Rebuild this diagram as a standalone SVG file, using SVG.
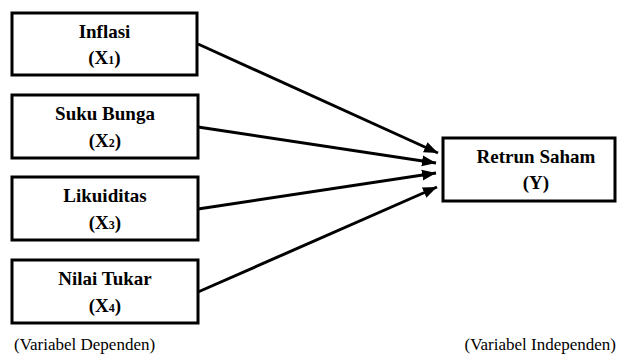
<svg xmlns="http://www.w3.org/2000/svg" width="617" height="358" viewBox="0 0 617 358">
<style>
.box{fill:#fff;stroke:#000;stroke-width:3}
.t{font-family:'Liberation Serif','Times New Roman',serif;font-weight:bold;font-size:19px;text-anchor:middle;fill:#000}
.s{font-family:'Liberation Serif','Times New Roman',serif;font-size:17px;fill:#000}
.c{stroke:#000;stroke-width:3;fill:none;marker-end:url(#ah)}
</style>
<defs>
<marker id="ah" markerUnits="userSpaceOnUse" markerWidth="15" markerHeight="12" refX="14" refY="6" orient="auto">
<path d="M0,0.5 L14,6 L0,11.5 Z" fill="#000"/>
</marker>
</defs>
<rect width="617" height="358" fill="#fff"/>
<g id="connectors">
<line class="c" x1="198" y1="44" x2="438" y2="153"/>
<line class="c" x1="198" y1="127" x2="436" y2="163"/>
<line class="c" x1="198" y1="209" x2="436" y2="173"/>
<line class="c" x1="198" y1="292" x2="437" y2="187"/>
</g>
<g id="x1">
<rect class="box" x="12" y="13" width="185" height="62"/>
<text class="t" x="104.5" y="38">Inflasi</text>
<text class="t" x="104.5" y="64">(X<tspan font-size="12">1</tspan>)</text>
</g>
<g id="x2">
<rect class="box" x="12" y="95" width="186" height="63"/>
<text class="t" x="105" y="120">Suku Bunga</text>
<text class="t" x="105" y="147">(X<tspan font-size="12">2</tspan>)</text>
</g>
<g id="x3">
<rect class="box" x="12" y="177" width="186" height="63"/>
<text class="t" x="105" y="202">Likuiditas</text>
<text class="t" x="105" y="229">(X<tspan font-size="12">3</tspan>)</text>
</g>
<g id="x4">
<rect class="box" x="12" y="260" width="186" height="63"/>
<text class="t" x="105" y="285">Nilai Tukar</text>
<text class="t" x="105" y="312">(X<tspan font-size="12">4</tspan>)</text>
</g>
<g id="y">
<rect class="box" x="443" y="138" width="172" height="63"/>
<text class="t" x="536" y="163">Retrun Saham</text>
<text class="t" x="536" y="189">(Y)</text>
</g>
<text class="s" x="14" y="350">(Variabel Dependen)</text>
<text class="s" x="616" y="350" text-anchor="end">(Variabel Independen)</text>
</svg>
